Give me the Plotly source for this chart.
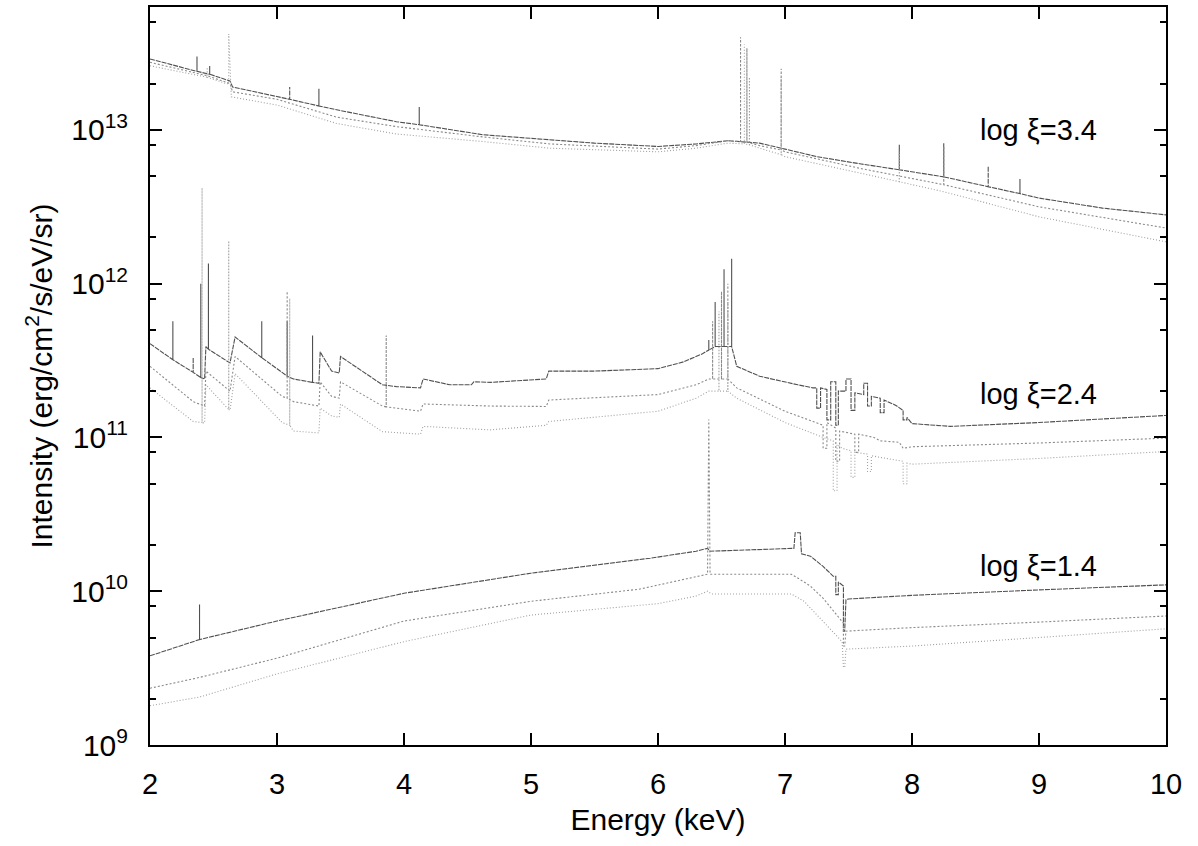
import math
import plotly.graph_objects as go

# ---------------- data (energy keV, intensity erg/cm2/s/eV/sr) ----------------
# log xi = 3.4
g1_dark_E = [2.00, 2.30, 2.37, 2.37, 2.37, 2.47, 2.47, 2.47, 2.63, 2.65, 3.10, 3.10, 3.10,
             3.33, 3.33, 3.33, 3.47, 3.94, 4.12, 4.12, 4.12, 4.62, 5.15, 5.50, 6.00, 6.30,
             6.55, 6.80, 7.00, 7.25, 7.60, 7.90, 7.90, 7.90, 8.25, 8.25, 8.25, 8.60, 8.60,
             8.60, 8.85, 8.85, 8.85, 9.00, 9.50, 10.00]
g1_dark_I = [2.89e13, 2.47e13, 2.40e13, 3.0e13, 2.40e13, 2.30e13, 2.6e13, 2.30e13, 2.08e13,
             1.90e13, 1.58e13, 1.9e13, 1.58e13, 1.43e13, 1.85e13, 1.43e13, 1.35e13, 1.13e13,
             1.08e13, 1.41e13, 1.08e13, 9.3e12, 8.6e12, 8.2e12, 7.8e12, 8.1e12, 8.5e12,
             8.2e12, 7.5e12, 6.7e12, 6.0e12, 5.5e12, 8.0e12, 5.5e12, 4.95e12, 8.2e12,
             4.95e12, 4.27e12, 5.8e12, 4.27e12, 3.85e12, 4.8e12, 3.85e12, 3.6e12, 3.1e12,
             2.8e12]

g1_mid_E = [2.00, 2.45, 2.63, 2.65, 3.00, 3.47, 3.94, 4.62, 5.15, 6.00, 6.30, 6.55, 6.65,
            6.65, 6.65, 6.70, 6.70, 6.70, 6.80, 6.97, 6.97, 6.97, 7.00, 7.60, 8.25, 8.25,
            8.25, 9.00, 10.00]
g1_mid_I = [2.75e13, 2.25e13, 2.0e13, 1.77e13, 1.58e13, 1.21e13, 1.05e13, 9.0e12, 8.1e12,
            7.5e12, 7.9e12, 8.5e12, 8.4e12, 4.0e13, 8.4e12, 8.3e12, 3.4e13, 8.3e12, 7.9e12,
            7.4e12, 2.5e13, 7.4e12, 7.2e12, 5.6e12, 4.4e12, 7.8e12, 4.4e12, 3.16e12, 2.3e12]

g1_light_E = [2.00, 2.35, 2.45, 2.45, 2.45, 2.60, 2.62, 2.62, 2.64, 3.00, 3.47, 3.94, 4.62,
              5.15, 6.00, 6.30, 6.55, 6.68, 6.68, 6.68, 6.72, 6.72, 6.72, 6.80, 6.97, 6.97,
              6.97, 7.00, 7.60, 7.90, 7.90, 7.90, 8.25, 9.00, 10.00]
g1_light_I = [2.61e13, 2.3e13, 2.2e13, 2.55e13, 2.2e13, 2.0e13, 2.0e13, 4.2e13, 1.64e13,
              1.45e13, 1.1e13, 9.4e12, 8.4e12, 7.6e12, 7.2e12, 7.6e12, 8.2e12, 8.1e12,
              3.6e13, 8.1e12, 8.0e12, 2.2e13, 8.0e12, 7.6e12, 6.9e12, 2.2e13, 6.9e12,
              6.7e12, 5.2e12, 4.6e12, 7.2e12, 4.6e12, 3.96e12, 2.72e12, 1.87e12]

# log xi = 2.4
g2_dark_E = [2.00, 2.18, 2.18, 2.18, 2.34, 2.34, 2.34, 2.40, 2.40, 2.40, 2.43, 2.44, 2.46,
             2.46, 2.46, 2.63, 2.67, 2.88, 2.88, 2.88, 3.04, 3.08, 3.08, 3.08, 3.13, 3.24,
             3.28, 3.28, 3.28, 3.33, 3.34, 3.43, 3.49, 3.50, 3.83, 3.94, 4.13, 4.15, 4.36,
             4.53, 4.55, 4.68, 5.12, 5.14, 5.50, 6.00, 6.20, 6.35, 6.40, 6.40, 6.40, 6.45,
             6.45, 6.45, 6.52, 6.52, 6.52, 6.58, 6.58, 6.58, 6.62, 6.80, 7.10, 7.22, 7.25,
             7.25, 7.28, 7.28, 7.33, 7.33, 7.36, 7.36, 7.40, 7.40, 7.42, 7.42, 7.48, 7.48,
             7.52, 7.52, 7.55, 7.55, 7.62, 7.62, 7.65, 7.65, 7.68, 7.68, 7.75, 7.75, 7.78,
             7.78, 7.85, 7.88, 7.93, 7.93, 7.96, 7.96, 8.00, 8.30, 9.00, 10.00]
g2_dark_I = [4.07e11, 3.2e11, 5.7e11, 3.2e11, 2.65e11, 3.3e11, 2.65e11, 2.45e11, 1.0e12,
             2.45e11, 2.4e11, 3.9e11, 3.75e11, 1.35e12, 3.75e11, 3.05e11, 4.5e11, 3.3e11,
             5.7e11, 3.3e11, 2.65e11, 2.5e11, 5.7e11, 2.5e11, 2.4e11, 2.3e11, 2.28e11,
             4.6e11, 2.28e11, 2.25e11, 3.6e11, 2.7e11, 2.62e11, 3.36e11, 2.2e11, 2.14e11,
             2.1e11, 2.4e11, 2.2e11, 2.2e11, 2.3e11, 2.28e11, 2.4e11, 2.7e11, 2.7e11,
             2.8e11, 3.1e11, 3.5e11, 3.7e11, 4.3e11, 3.7e11, 3.9e11, 7.6e11, 3.9e11, 3.9e11,
             1.24e12, 3.9e11, 3.9e11, 1.45e12, 3.9e11, 2.9e11, 2.5e11, 2.2e11, 2.1e11,
             2.1e11, 1.55e11, 1.55e11, 2.1e11, 2.05e11, 1.3e11, 1.3e11, 2.3e11, 2.3e11,
             1.2e11, 1.2e11, 2.0e11, 2.0e11, 2.4e11, 2.4e11, 1.5e11, 1.5e11, 1.95e11,
             1.9e11, 2.25e11, 2.25e11, 1.6e11, 1.6e11, 1.85e11, 1.8e11, 1.45e11, 1.45e11,
             1.75e11, 1.65e11, 1.6e11, 1.5e11, 1.3e11, 1.3e11, 1.35e11, 1.23e11, 1.18e11,
             1.25e11, 1.39e11]

g2_mid_E = [2.00, 2.34, 2.43, 2.44, 2.63, 2.67, 3.04, 3.08, 3.08, 3.08, 3.13, 3.33, 3.34,
            3.43, 3.49, 3.50, 3.83, 3.86, 3.86, 3.86, 4.13, 4.15, 4.68, 5.12, 5.14, 6.00,
            6.30, 6.40, 6.43, 6.43, 6.43, 6.50, 6.50, 6.50, 6.55, 6.55, 6.55, 6.62, 7.00,
            7.22, 7.30, 7.30, 7.33, 7.33, 7.40, 7.40, 7.43, 7.43, 7.55, 7.55, 7.58, 7.58,
            7.70, 7.75, 7.90, 7.93, 8.00, 9.00, 10.00]
g2_mid_I = [2.9e11, 1.71e11, 1.6e11, 2.7e11, 2.0e11, 3.36e11, 1.85e11, 1.8e11, 8.9e11,
            1.8e11, 1.71e11, 1.6e11, 2.3e11, 1.85e11, 1.8e11, 2.3e11, 1.6e11, 1.58e11,
            4.6e11, 1.58e11, 1.48e11, 1.65e11, 1.6e11, 1.59e11, 1.75e11, 1.9e11, 2.2e11,
            2.4e11, 2.4e11, 5.7e11, 2.4e11, 2.4e11, 8.9e11, 2.4e11, 2.4e11, 1.0e12, 2.4e11,
            2.1e11, 1.48e11, 1.27e11, 1.2e11, 8.5e10, 8.5e10, 1.25e11, 1.15e11, 7.0e10,
            7.0e10, 1.1e11, 1.05e11, 8.0e10, 8.0e10, 1.05e11, 1.0e11, 9.5e10, 9.3e10,
            8.5e10, 8.7e10, 9.2e10, 9.9e10]

g2_light_E = [2.00, 2.34, 2.41, 2.41, 2.41, 2.43, 2.44, 2.62, 2.62, 2.62, 2.63, 2.67, 3.04,
              3.10, 3.10, 3.10, 3.13, 3.33, 3.34, 3.43, 3.49, 3.50, 3.83, 4.13, 4.15, 4.68,
              5.12, 5.14, 6.00, 6.30, 6.40, 6.48, 6.48, 6.48, 6.55, 6.55, 6.55, 6.62, 7.00,
              7.30, 7.38, 7.38, 7.41, 7.41, 7.45, 7.52, 7.52, 7.55, 7.55, 7.65, 7.65, 7.68,
              7.68, 7.80, 7.93, 7.93, 7.96, 7.96, 8.00, 9.00, 10.00]
g2_light_I = [2.1e11, 1.27e11, 1.25e11, 4.2e12, 1.25e11, 1.24e11, 2.2e11, 1.52e11, 1.9e12,
              1.52e11, 1.5e11, 2.6e11, 1.25e11, 1.2e11, 8.0e11, 1.2e11, 1.1e11, 1.07e11,
              1.55e11, 1.38e11, 1.35e11, 1.65e11, 1.09e11, 1.05e11, 1.18e11, 1.12e11,
              1.2e11, 1.27e11, 1.48e11, 1.8e11, 2.0e11, 2.0e11, 6.6e11, 2.0e11, 2.0e11,
              7.6e11, 2.0e11, 1.8e11, 1.25e11, 1.0e11, 9.5e10, 4.5e10, 4.5e10, 9.0e10,
              8.5e10, 8.2e10, 5.5e10, 5.5e10, 8.0e10, 7.8e10, 6.0e10, 6.0e10, 7.6e10,
              7.3e10, 7.0e10, 5.0e10, 5.0e10, 6.8e10, 6.7e10, 7.3e10, 8.1e10]

# log xi = 1.4
g3_dark_E = [2.00, 2.39, 2.39, 2.39, 3.00, 4.00, 5.00, 5.94, 6.30, 6.39, 6.41, 7.05, 7.07,
             7.08, 7.12, 7.13, 7.20, 7.30, 7.38, 7.40, 7.40, 7.42, 7.42, 7.46, 7.46, 7.47,
             7.48, 7.50, 8.00, 9.00, 10.00]
g3_dark_I = [3.8e9, 4.85e9, 8.2e9, 4.85e9, 6.4e9, 9.7e9, 1.31e10, 1.64e10, 1.82e10, 1.9e10,
             1.82e10, 1.9e10, 1.9e10, 2.4e10, 2.4e10, 1.75e10, 1.69e10, 1.45e10, 1.25e10,
             1.25e10, 9.5e9, 9.5e9, 1.15e10, 1.08e10, 5.5e9, 5.5e9, 8.8e9, 8.9e9, 9.4e9,
             1.02e10, 1.1e10]

g3_mid_E = [2.00, 2.39, 3.00, 4.00, 5.00, 5.85, 6.39, 6.40, 6.41, 7.05, 7.10, 7.20, 7.30,
            7.40, 7.46, 7.46, 7.47, 7.48, 8.00, 9.00, 10.00]
g3_mid_I = [2.34e9, 2.75e9, 3.67e9, 6.4e9, 8.6e9, 1.03e10, 1.29e10, 1.31e11, 1.29e10,
            1.29e10, 1.22e10, 1.08e10, 9.0e9, 7.2e9, 6.2e9, 4.4e9, 4.4e9, 5.5e9, 5.8e9,
            6.3e9, 6.9e9]

g3_light_E = [2.00, 2.39, 3.00, 4.00, 5.00, 6.00, 6.30, 6.39, 6.42, 7.05, 7.15, 7.30, 7.45,
              7.46, 7.47, 7.48, 8.00, 9.00, 10.00]
g3_light_I = [1.8e9, 2.05e9, 2.9e9, 4.7e9, 7.0e9, 8.3e9, 9.3e9, 1.0e10, 9.6e9, 9.6e9, 8.6e9,
              6.4e9, 4.7e9, 3.2e9, 3.2e9, 4.2e9, 4.4e9, 5.0e9, 5.7e9]

x_ticks = [2, 3, 4, 5, 6, 7, 8, 9, 10]
y_ticks = [1e9, 1e10, 1e11, 1e12, 1e13]
y_tick_text = ["10<sup>9</sup>", "10<sup>10</sup>", "10<sup>11</sup>", "10<sup>12</sup>",
               "10<sup>13</sup>"]
y_minor_ticks = [2e9, 5e9, 8e9, 2e10, 5e10, 8e10, 2e11, 5e11, 8e11, 2e12, 5e12, 8e12,
                 2e13, 5e13]
labels = ["log ξ=3.4", "log ξ=2.4", "log ξ=1.4"]
label_y = [1.0e13, 1.93e11, 1.45e10]
label_x = 8.52

# ---------------- figure ----------------
DARK = dict(color="#505050", width=1.1, dash="5px,1px")
MID = dict(color="#8a8a8a", width=1.1, dash="2px,2px")
LIGHT = dict(color="#a0a0a0", width=1.1, dash="1px,2px")

series = [
    (g1_dark_E, g1_dark_I, DARK), (g1_mid_E, g1_mid_I, MID), (g1_light_E, g1_light_I, LIGHT),
    (g2_dark_E, g2_dark_I, DARK), (g2_mid_E, g2_mid_I, MID), (g2_light_E, g2_light_I, LIGHT),
    (g3_dark_E, g3_dark_I, DARK), (g3_mid_E, g3_mid_I, MID), (g3_light_E, g3_light_I, LIGHT),
]

fig = go.Figure()
for E, I, style in series:
    fig.add_trace(go.Scatter(x=E, y=I, mode="lines", line=style, showlegend=False,
                             hoverinfo="skip"))

FONT = "Liberation Sans, Arial, Helvetica, sans-serif"
for t, y in zip(labels, label_y):
    # annotations on a log axis are positioned in log10 units
    fig.add_annotation(x=label_x, y=math.log10(y), yref="y", xref="x", text=t,
                       showarrow=False, xanchor="left", yanchor="middle",
                       font=dict(family=FONT, size=29, color="black"))

fig.update_layout(
    width=1198, height=846,
    margin=dict(l=150, r=32, t=5, b=101),
    paper_bgcolor="white", plot_bgcolor="white",
    font=dict(family=FONT, color="black"),
)
fig.update_xaxes(
    range=[2, 10], tickvals=x_ticks, ticktext=[str(v) for v in x_ticks],
    ticks="inside", ticklen=12, tickwidth=1.5, tickcolor="black",
    showline=True, linewidth=2, linecolor="black", mirror="ticks",
    showgrid=False, zeroline=False, tickfont=dict(size=29), ticklabelstandoff=12,
    title=dict(text="Energy (keV)", font=dict(size=30), standoff=10),
)
fig.update_yaxes(
    type="log", range=[9, 13.799], tickvals=y_ticks, ticktext=y_tick_text,
    ticks="inside", ticklen=12, tickwidth=1.5, tickcolor="black",
    minor=dict(tickvals=y_minor_ticks, ticks="inside", ticklen=6, tickwidth=1.5,
               tickcolor="black", showgrid=False),
    showline=True, linewidth=2, linecolor="black", mirror="ticks",
    showgrid=False, zeroline=False, tickfont=dict(size=30), ticklabelstandoff=14,
    title=dict(text="Intensity (erg/cm<sup>2</sup>/s/eV/sr)", font=dict(size=30),
               standoff=10),
)

fig.write_html("out.html")
